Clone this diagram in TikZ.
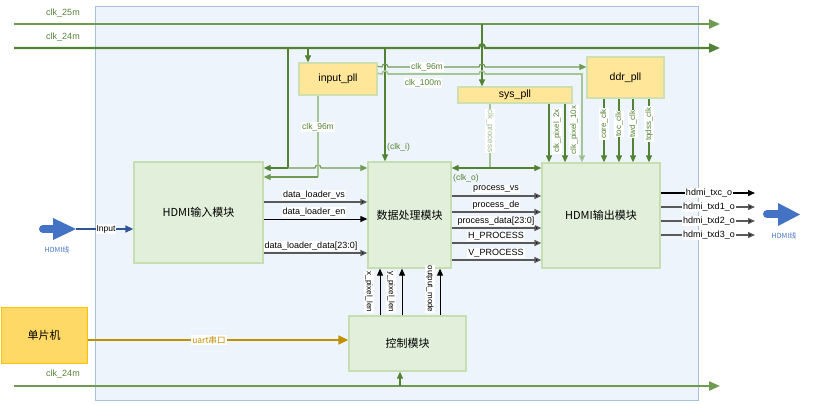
\documentclass[tikz,border=0pt]{standalone}
\usepackage{fontspec}
\setmainfont{Liberation Sans}
\newfontfamily\cjk{Noto Sans CJK SC}
\usetikzlibrary{arrows.meta,calc}
\definecolor{panelfill}{HTML}{EEF4FB}
\definecolor{panelborder}{HTML}{A7C2DE}
\definecolor{modfill}{HTML}{E2EFDA}
\definecolor{modborder}{HTML}{C5DFB3}
\definecolor{pllfill}{HTML}{FFE699}
\definecolor{pllborder}{HTML}{CFE0B0}
\definecolor{mcufill}{HTML}{FFD966}
\definecolor{mcuborder}{HTML}{FFC000}
\definecolor{clkdark}{HTML}{548235}
\definecolor{clkmid}{HTML}{6F9A52}
\definecolor{clklight}{HTML}{A6C597}
\definecolor{sigdark}{HTML}{595959}
\definecolor{hdmiblue}{HTML}{4472C4}
\definecolor{inblue}{HTML}{2F5597}
\definecolor{uartgold}{HTML}{BF9000}
\newcommand\myfs[1]{\fontsize{#1}{#1}\selectfont}
\tikzset{
  panel/.style={fill=panelfill, draw=panelborder, line width=1pt},
  modbox/.style={fill=modfill, draw=modborder, line width=1.3pt, inner sep=0pt, font=\cjk\myfs{11}},
  pllbox/.style={fill=pllfill, draw=pllborder, line width=1.2pt, inner sep=0pt, font=\myfs{10.5}},
  mcubox/.style={fill=mcufill, draw=mcuborder, line width=1pt, inner sep=0pt, font=\cjk\myfs{11}},
  tip/.style={-{Triangle[length=7pt,width=6pt]}},
  bustip/.style={-{Triangle[length=11pt,width=9pt]}},
  clkbus/.style={draw=clkdark, line width=2.2pt},
  clkline/.style={draw=clkdark, line width=1.1pt, tip},
  clklite/.style={draw=clklight, line width=1.6pt},
  sigline/.style={draw=black, line width=0.9pt, tip},
  busline/.style={draw=sigdark, line width=1.4pt, -{Triangle[length=7pt,width=6pt,fill=black]}},
  clklabel/.style={text=clkdark, font=\myfs{8.5}, fill=white, inner sep=1pt},
  buslabel/.style={text=clkdark, font=\myfs{9}, inner sep=0pt},
  siglabel/.style={text=black, font=\myfs{9}, fill=white, inner sep=1pt},
  vlabel/.style={text=black, font=\myfs{8}, fill=white, inner sep=1pt},
  vclk/.style={text=clkdark, font=\myfs{8}, fill=white, inner sep=1pt},
  bluelabel/.style={text=hdmiblue, font=\cjk\myfs{7}, inner sep=0pt},
  bigtail/.style={draw=hdmiblue, line width=8pt, line cap=round},
}
\begin{document}
\begin{tikzpicture}[x=1pt,y=-1pt]
\useasboundingbox (0,0) rectangle (830,404);
% panel
\path[panel] (95,7) rectangle (698,400);

% boxes
\node[modbox, minimum width=129pt, minimum height=101pt] (hin) at (198.5,212.5) {HDMI输入模块};
\node[modbox, minimum width=83pt, minimum height=106pt] (proc) at (409.5,215) {数据处理模块};
\node[modbox, minimum width=118pt, minimum height=105pt] (hout) at (601,215.5) {HDMI输出模块};
\node[modbox, minimum width=117pt, minimum height=55pt] (ctrl) at (407.5,343.5) {控制模块};
\node[mcubox, minimum width=86pt, minimum height=56pt] (mcu) at (44,335) {单片机};
\node[pllbox, minimum width=78pt, minimum height=32pt] (ipll) at (338,79) {input\_pll};
\node[pllbox, minimum width=114pt, minimum height=16pt] (spll) at (515,95) {sys\_pll};
\node[pllbox, minimum width=77pt, minimum height=41pt] (dpll) at (625.5,77.5) {ddr\_pll};

% clock buses
\coordinate (c25a) at (14,24); \coordinate (c25b) at (720,24);
\coordinate (c24a) at (14,48); \coordinate (c24b) at (720,48);
\coordinate (c24c) at (14,386); \coordinate (c24d) at (720,386);
\draw[clkbus, draw=clkmid, bustip] (c25a) -- (c25b);
\draw[clkbus, bustip] (c24a) -- (479,48) .. controls (479,43) and (485,43) .. (485,48) -- (c24b);
\draw[clkbus, draw=clkmid, bustip] (c24c) -- (c24d);
\node[buslabel] (l25) at (63,13) {clk\_25m};
\node[buslabel] (l24) at (63,37) {clk\_24m};
\node[buslabel] (l24b) at (63,374) {clk\_24m};

% clk_24m to HDMI in / proc
\coordinate (j288) at (288,168);
\draw[clkdark, line width=1.1pt] (288,48) -- (j288);
\draw[clkline] (j288) -- (hin.east |- j288);
\draw[clkline, draw=clkmid] (j288) -- (315,168) .. controls (315,164) and (321,164) .. (321,168) -- (proc.west |- j288);
% clk_24m to input_pll
\draw[clkline] (308,48) -- (ipll.north -| 308,0);
% clk_96m from input_pll bottom
\coordinate (k96) at (318,177);
\draw[clklite] (ipll.south -| 318,0) -- (k96);
\draw[clkline, draw=clkmid] (k96) -- (hin.east |- k96);
\node[clklabel] (l96v) at (318,127) {clk\_96m};
% clk_i
\draw[clkline] (385,48) -- (proc.north -| 385,0);
\node[clklabel, fill=none, anchor=west] (lci) at (386,147) {(clk\_i)};
% clk_25m to sys_pll
\draw[clkline] (482,24) -- (spll.north -| 482,0);
% clk_96m to ddr_pll
\draw[clkline, draw=clkmid] ($(ipll.north east)+(0,4)$) -- (382,67) .. controls (382,63) and (388,63) .. (388,67)
   -- (479,67) .. controls (479,63) and (485,63) .. (485,67) -- (dpll.west |- 0,67);
\node[clklabel] (l96h) at (427,67) {clk\_96m};
% clk_100m to HDMI out
\coordinate (k100) at (582,74);
\draw[clklite, -{Triangle[length=7pt,width=6pt,fill=clkdark]}] ($(ipll.north east)+(0,11)$) -- (382,74) .. controls (382,70) and (388,70) .. (388,74)
   -- (479,74) .. controls (479,70) and (485,70) .. (485,74) -- (k100) -- (hout.north -| k100);
\node[clklabel] (l100) at (423,83) {clk\_100m};
% clk_process
\coordinate (jp) at (490,168);
\draw[clklite] (spll.south -| jp) -- (jp);
\draw[clkline, {Triangle[length=7pt,width=6pt]}-{Triangle[length=7pt,width=6pt]}] (proc.east |- jp) -- (hout.west |- jp);
\node[vclk, text=clklight!85!gray, rotate=-90] (lcp) at (490,131) {clk\_process};
\node[clklabel, fill=none, anchor=west] (lco) at (452,178) {(clk\_o)};
% sys_pll pixel clocks
\draw[clkline] (spll.south -| 549,0) -- (hout.north -| 549,0);
\draw[clkline] (spll.south -| 565,0) -- (hout.north -| 565,0);
\node[vclk, rotate=90] (lp2) at (557,131) {clk\_pixel\_2x};
\node[vclk, rotate=90] (lp10) at (574,130) {clk\_pixel\_10x};
% ddr_pll clocks
\foreach \xx/\nm in {604/core\_clk, 619/toc\_clk, 633/twd\_clk, 649/tqdss\_clk}{
  \draw[clkline] (dpll.south -| \xx,0) -- (hout.north -| \xx,0);
  \node[vclk, rotate=90] at (\xx,124) {\nm};
}

% HDMI in -> proc
\draw[busline] (hin.east |- 0,202) -- (proc.west |- 0,202);
\draw[sigline] (hin.east |- 0,219) -- (proc.west |- 0,219);
\draw[busline] (hin.east |- 0,253) -- (proc.west |- 0,253);
\node[siglabel] (ldv) at (314,195) {data\_loader\_vs};
\node[siglabel] (lde) at (314,212) {data\_loader\_en};
\node[siglabel] (ldd) at (311,246) {data\_loader\_data[23:0]};

% proc -> HDMI out
\foreach \yy/\nm in {196/process\_vs, 212/process\_de, 228/process\_data[23:0], 243/H\_PROCESS, 260/V\_PROCESS}{
  \draw[busline] (proc.east |- 0,\yy) -- (hout.west |- 0,\yy);
  \node[siglabel] at (496,\yy-7) {\nm};
}

% HDMI out -> outputs
\foreach \yy/\nm/\cc in {193/hdmi\_txc\_o/black, 207/hdmi\_txd1\_o/sigdark, 221/hdmi\_txd2\_o/sigdark, 235/hdmi\_txd3\_o/sigdark}{
  \coordinate (o\yy) at (755,\yy);
  \draw[busline, draw=\cc] (hout.east |- o\yy) -- (o\yy);
  \node[siglabel] at (709,\yy) {\nm};
}

% big blue arrows
\draw[bigtail] (43,229) -- (56,229);
\fill[hdmiblue] (53,218) -- (76,229) -- (53,240) -- cycle;
\node[bluelabel] (lh1) at (57,250) {HDMI线};
\draw[bigtail] (767,214) -- (781,214);
\fill[hdmiblue] (778,203) -- (800,214.5) -- (778,226) -- cycle;
\node[bluelabel] (lh2) at (784,236) {HDMI线};
\coordinate (inp) at (76,229);
\draw[inblue, line width=1.4pt, -{Triangle[length=8pt,width=7pt]}] (inp) -- (hin.west |- inp);
\node[siglabel, font=\myfs{8.5}] (linp) at (106,229) {Input};

% mcu -> ctrl
\draw[uartgold, line width=1.6pt, -{Triangle[length=10pt,width=9pt]}] (mcu.east |- 0,340) -- (ctrl.west |- 0,340);
\node[siglabel, text=uartgold, font=\cjk\myfs{8.5}] (luart) at (209,340) {uart串口};

% ctrl -> proc
\foreach \xx/\nm/\lx/\ly in {380/x\_pixel\_len/369/292, 402/y\_pixel\_len/391/292, 440/output\_mode/430/289}{
  \draw[sigline] (ctrl.north -| \xx,0) -- (proc.south -| \xx,0);
  \node[vlabel, rotate=-90] at (\lx,\ly) {\nm};
}
% clk_24m -> ctrl
\draw[clkline] (400,386) -- (ctrl.south -| 400,0);
\end{tikzpicture}
\end{document}
